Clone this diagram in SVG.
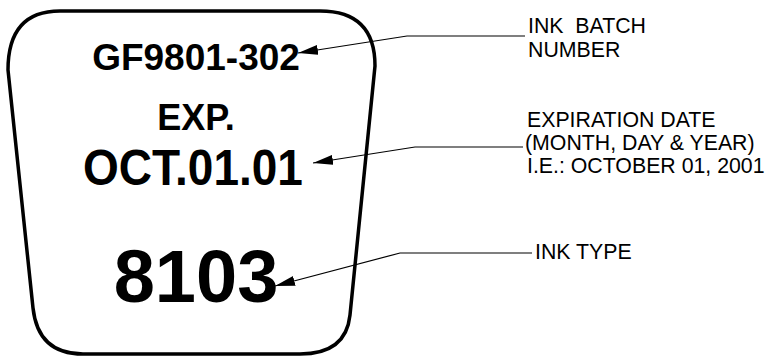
<svg xmlns="http://www.w3.org/2000/svg" width="768" height="356" viewBox="0 0 768 356">
<style>
.big{font-family:"Liberation Sans",Arial,sans-serif;font-weight:bold;fill:#000;text-anchor:middle}
.lbl{font-family:"Liberation Sans",Arial,sans-serif;font-size:21.3px;fill:#000;white-space:pre}
.lead{fill:none;stroke:#000;stroke-width:1.2}
</style>
<defs>
<marker id="ah" viewBox="0 0 20 10" refX="20" refY="5" markerWidth="20" markerHeight="10" markerUnits="userSpaceOnUse" orient="auto">
<path d="M0,0 L20,5 L0,10 Z" fill="#000"/>
</marker>
</defs>
<rect width="768" height="356" fill="#fff"/>
<g id="label-outline">
<path d="M60,11 L320,11 Q375,11 375,66 L350,315 Q346,354 300,354 L83,354 Q38,354 33,308 L8,70 Q8,11 60,11 Z" fill="none" stroke="#000" stroke-width="3.5"/>
</g>
<g id="batch-number"><text class="big" x="196" y="70" font-size="37">GF9801-302</text></g>
<g id="exp"><text class="big" x="196" y="130" font-size="36">EXP.</text></g>
<g id="exp-date"><text class="big" transform="translate(193,185) scale(1,1.08)" font-size="46">OCT.01.01</text></g>
<g id="ink-type"><text class="big" x="196" y="302" font-size="74">8103</text></g>
<g id="label-batch"><text class="lbl" x="528" y="33" xml:space="preserve">INK  BATCH</text><text class="lbl" x="528" y="57">NUMBER</text></g>
<g id="label-expiration"><text class="lbl" x="527" y="127">EXPIRATION DATE</text><text class="lbl" x="525" y="150">(MONTH, DAY &amp; YEAR)</text><text class="lbl" x="527" y="173">I.E.: OCTOBER 01, 2001</text></g>
<g id="label-type"><text class="lbl" x="535" y="259">INK TYPE</text></g>
<g id="connectors">
<path class="lead" d="M525,36 L407,36 L298,53" marker-end="url(#ah)"/>
<path class="lead" d="M523,147 L415,147 L313,163" marker-end="url(#ah)"/>
<path class="lead" d="M532,253 L400,253 L275,286" marker-end="url(#ah)"/>
</g>
</svg>
